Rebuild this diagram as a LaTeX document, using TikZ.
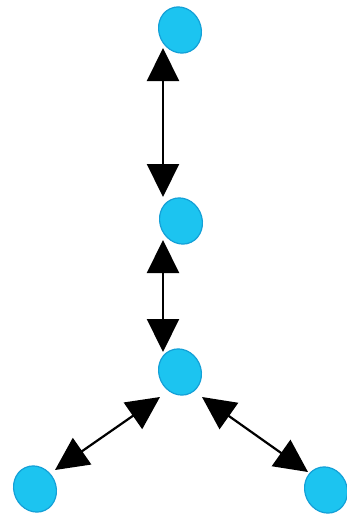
\documentclass[tikz,border=0pt]{standalone}
\usetikzlibrary{shapes.geometric,arrows.meta}
\definecolor{dotcyan}{RGB}{28,196,240}
\definecolor{dotedge}{RGB}{20,160,215}
\begin{document}
\begin{tikzpicture}[x=0.5pt,y=-0.5pt,
  dot/.style={ellipse, fill=dotcyan, draw=dotedge, line width=0.6pt, minimum width=21pt, minimum height=23.5pt, inner sep=0pt, rotate=25},
  link/.style={{Triangle[length=16.5pt,width=16pt]}-{Triangle[length=16.5pt,width=16pt]}, line width=1.1pt, black}]
\useasboundingbox (0,0) rectangle (347,520);
\node[dot] (a) at (180,30) {};
\node[dot] (b) at (181,221) {};
\node[dot] (c) at (180,372) {};
\node[dot] (l) at (35,489) {};
\node[dot] (r) at (326,490) {};
\draw[link] ([shift={(-17,18)}]a.center) -- ([shift={(-18,-24)}]b.center);
\draw[link] ([shift={(-18,19)}]b.center) -- ([shift={(-17,-20)}]c.center);
\draw[link] ([shift={(-20,25)}]c.center) -- ([shift={(20,-19)}]l.center);
\draw[link] ([shift={(22,25)}]c.center) -- ([shift={(-18,-18)}]r.center);
\end{tikzpicture}
\end{document}
